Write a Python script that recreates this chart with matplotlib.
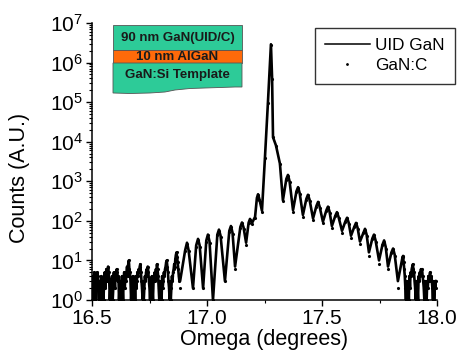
import numpy as np
import matplotlib.pyplot as plt
from matplotlib.patches import Rectangle, Polygon
from matplotlib.ticker import MultipleLocator, LogLocator

plt.rcParams['font.family'] = ['Liberation Sans', 'DejaVu Sans']
plt.rcParams['mathtext.fontset'] = 'custom'
plt.rcParams['mathtext.rm'] = 'Liberation Sans'

# --- data ---
# noisy background, low omega side (step 0.0025 deg)
omega_left = np.linspace(16.500, 16.880, 153)
counts_left = [2, 4, 1, 3, 5, 2, 1, 4, 3, 5,
               4, 2, 1, 3, 1, 2, 4, 1, 3, 2,
               1, 3, 5, 2, 4, 6, 3, 5, 7, 5,
               3, 1, 2, 1, 3, 4, 1, 2, 5, 3,
               2, 4, 5, 6, 5, 3, 4, 1, 2, 1,
               3, 1, 4, 2, 1, 3, 5, 2, 4, 3,
               5, 7, 4, 8, 10, 6, 5, 3, 1, 2,
               1, 4, 2, 1, 3, 1, 4, 2, 3, 5,
               4, 6, 5, 7, 8, 5, 3, 2, 1, 3,
               1, 2, 4, 3, 5, 6, 4, 7, 5, 3,
               2, 1, 3, 1, 4, 2, 1, 3, 4, 5,
               3, 6, 5, 8, 6, 4, 2, 1, 3, 1,
               2, 1, 4, 2, 3, 5, 4, 6, 7, 9,
               10, 7, 5, 3, 2, 1, 3, 1, 2, 4,
               3, 5, 6, 8, 7, 11, 14, 16, 12, 9,
               6, 4, 3]

# thickness fringes + main peak
omega_mid = [16.883, 16.905, 16.913, 16.920, 16.939, 16.953, 16.961, 16.968, 16.983, 16.997,
             17.004, 17.011, 17.026, 17.045, 17.052, 17.059, 17.078, 17.097, 17.104, 17.111,
             17.122, 17.145, 17.152, 17.159, 17.170, 17.181, 17.187, 17.196, 17.209, 17.217,
             17.222, 17.228, 17.239, 17.252, 17.265, 17.278, 17.283, 17.287, 17.300, 17.317,
             17.330, 17.345, 17.352, 17.359, 17.374, 17.389, 17.396, 17.403, 17.417, 17.432,
             17.439, 17.446, 17.461, 17.476, 17.483, 17.490, 17.504, 17.519, 17.526, 17.533,
             17.543, 17.558, 17.565, 17.572, 17.587, 17.602, 17.609, 17.616, 17.626, 17.641,
             17.648, 17.655, 17.665, 17.680, 17.687, 17.694, 17.704, 17.719, 17.726, 17.733,
             17.748, 17.763, 17.770, 17.777, 17.787, 17.802, 17.809, 17.816, 17.830]
uid_mid = [3, 18, 28, 18, 2, 24, 35, 24, 2, 32,
           45, 30, 1, 45, 60, 42, 3, 56, 74, 50,
           7, 70, 91, 68, 28, 90, 112, 89, 126, 380,
           470, 350, 180, 4000, 1.0e5, 2.9e6, 4.0e5, 13000, 8000, 2800,
           330, 1150, 1450, 1000, 186, 560, 710, 500, 141, 360,
           457, 340, 115, 240, 302, 225, 95, 185, 229, 170,
           74, 135, 166, 125, 56, 98, 120, 90, 42, 72,
           89, 66, 30, 50, 63, 45, 16, 36, 45, 32,
           10, 25, 32, 22, 7, 16, 20, 14, 3]
ganc_mid = [2, 17, 26, 17, 2, 22, 33, 22, 2, 30,
            43, 28, 1, 43, 57, 40, 3, 53, 71, 47,
            6, 66, 87, 64, 25, 86, 107, 84, 120, 365,
            455, 335, 170, 3900, 9.7e4, 2.8e6, 3.9e5, 12800, 7800, 2700,
            310, 1100, 1400, 950, 170, 540, 690, 470, 128, 345,
            445, 320, 105, 230, 295, 210, 86, 178, 222, 160,
            66, 130, 160, 118, 50, 94, 116, 84, 37, 69,
            86, 62, 26, 48, 60, 42, 13, 34, 43, 30,
            8, 24, 30, 20, 6, 15, 19, 13, 2]

# noisy background, high omega side (step 0.0025 deg)
omega_right = np.linspace(17.850, 17.9975, 60)
counts_right = [12, 13, 9, 6, 4, 2, 1, 3, 2, 1,
                3, 1, 4, 2, 5, 4, 6, 7, 8, 6,
                5, 3, 2, 1, 3, 1, 2, 1, 4, 3,
                5, 4, 6, 5, 6, 4, 3, 2, 1, 3,
                1, 2, 1, 3, 2, 4, 3, 4, 5, 3,
                4, 3, 2, 1, 3, 1, 2, 3, 2, 3]

omega = np.concatenate([omega_left, omega_mid, omega_right])
uid = np.concatenate([counts_left, uid_mid, counts_right])
ganc = np.concatenate([counts_left, ganc_mid, counts_right])

fig = plt.figure(figsize=(4.58, 3.6), dpi=100)
ax = fig.add_axes([92 / 458, 60 / 360, 345 / 458, 277 / 360])

ax.plot(omega, uid, '-', color='black', lw=1.9, solid_joinstyle='round', label='UID GaN')
ax.plot(omega, ganc, '.', color='black', ms=2.5, label='GaN:C')

ax.set_yscale('log')
ax.set_xlim(16.5, 18.0)
ax.set_ylim(1, 1e7)
ax.xaxis.set_minor_locator(MultipleLocator(0.25))
ax.yaxis.set_major_locator(LogLocator(base=10, numticks=10))
ax.yaxis.set_minor_locator(LogLocator(base=10, subs=np.arange(2, 10), numticks=10))
ax.set_xticks([16.5, 17.0, 17.5, 18.0], ['16.5', '17.0', '17.5', '18.0'])
ax.tick_params(which='major', length=4.5, width=1, labelsize=15, pad=2)
ax.tick_params(which='minor', length=2.5, width=0.8)
ax.spines['top'].set_visible(False)
ax.spines['right'].set_visible(False)
for s in ['left', 'bottom']:
    ax.spines[s].set_linewidth(1.1)

ax.set_xlabel('Omega (degrees)', fontsize=15.5, labelpad=1)
ax.set_ylabel('Counts (A.U.)', fontsize=15.5)
ax.yaxis.set_label_coords(-0.18, 0.44)

leg = ax.legend(loc='upper left', bbox_to_anchor=(315 / 458, 1 - 28 / 360),
                bbox_transform=fig.transFigure, fontsize=12.3, frameon=True,
                fancybox=False, edgecolor='black', handlelength=2.6,
                handletextpad=0.3, borderpad=0.6, labelspacing=0.3,
                markerscale=0.8, borderaxespad=0)
leg.get_frame().set_linewidth(1.0)
leg.get_lines()[0].set_linewidth(1.1)

# layer structure inset
green = '#2DCB98'
orange = '#FF6A0A'
X0, X1 = 113 / 458, 242 / 458


def fy(py):
    return 1 - py / 360


fig.add_artist(Rectangle((X0, fy(50)), X1 - X0, fy(25) - fy(50), transform=fig.transFigure,
                         facecolor=green, edgecolor='#555555', lw=0.6))
fig.add_artist(Rectangle((X0, fy(63)), X1 - X0, fy(50) - fy(63), transform=fig.transFigure,
                         facecolor=orange, edgecolor='#555555', lw=0.6))
wave_x = [113, 130, 150, 165, 175, 190, 205, 220, 235, 242]
wave_y = [93, 93.5, 93, 92, 90, 88.5, 88, 87.5, 87, 87]
pts = [(X0, fy(63)), (X1, fy(63))] + [(x / 458, fy(y)) for x, y in zip(wave_x[::-1], wave_y[::-1])]
fig.add_artist(Polygon(pts, closed=True, transform=fig.transFigure,
                       facecolor=green, edgecolor='#555555', lw=0.6))
xc = (X0 + X1) / 2
fig.text(xc, fy(38), '90 nm GaN(UID/C)', ha='center', va='center', fontsize=9.5, fontweight='bold', color='#1a1a1a')
fig.text(xc, fy(57), '10 nm AlGaN', ha='center', va='center', fontsize=9.5, fontweight='bold', color='#1a1a1a')
fig.text(xc, fy(75), 'GaN:Si Template', ha='center', va='center', fontsize=9.5, fontweight='bold', color='#1a1a1a')

fig.savefig('out.png', dpi=100)
